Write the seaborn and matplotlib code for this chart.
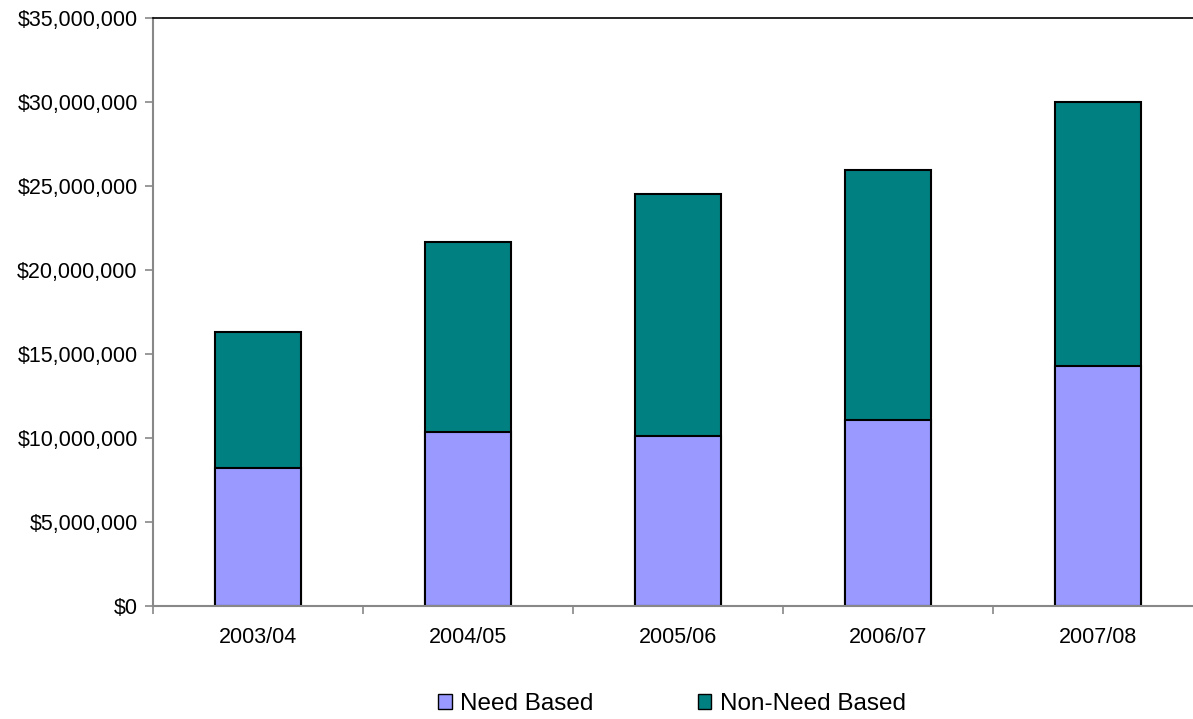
import matplotlib
matplotlib.use("Agg")
import matplotlib.pyplot as plt
import matplotlib.ticker as ticker
from matplotlib.patches import Patch
import seaborn as sns
import numpy as np

years = ["2003/04", "2004/05", "2005/06", "2006/07", "2007/08"]
need_based = [8.2e6, 10.35e6, 10.1e6, 11.05e6, 14.3e6]
non_need_based = [8.1e6, 11.3e6, 14.4e6, 14.9e6, 15.7e6]

need_color = "#9999FF"
non_need_color = "#008080"

sns.set_style("white")
plt.rcParams["font.family"] = ["Liberation Sans", "DejaVu Sans"]

fig = plt.figure(figsize=(11.93, 7.19), dpi=100)
ax = fig.add_axes([153 / 1193, 1 - 606 / 719, 1050 / 1193, 588 / 719])

totals = np.array(need_based) + np.array(non_need_based)

# Stacked bars: draw totals first (non-need on top), then need-based over them
sns.barplot(x=years, y=totals, color=non_need_color, saturation=1, width=0.41,
            edgecolor="black", linewidth=1.5, ax=ax)
sns.barplot(x=years, y=need_based, color=need_color, saturation=1, width=0.41,
            edgecolor="black", linewidth=1.5, ax=ax)

ax.set_xlim(-0.5, 4.5)
ax.set_ylim(0, 35e6)
ax.yaxis.set_major_locator(ticker.MultipleLocator(5e6))
ax.yaxis.set_major_formatter(ticker.FuncFormatter(lambda v, _: f"${v:,.0f}"))

# Tick marks between categories on the x axis
ax.set_xticks(np.arange(-0.5, 5, 1), minor=True)
ax.tick_params(axis="x", which="major", length=0, pad=15, labelsize=15.5, labelcolor="black")
ax.tick_params(axis="x", which="minor", bottom=True, length=6, width=1.2, color="#888888",
               direction="out")
ax.tick_params(axis="y", which="major", length=6, width=1.2, color="#888888", direction="out",
               left=True, labelsize=15.5, labelcolor="black", pad=5)
ax.set_xlabel("")
ax.set_ylabel("")

for side in ["left", "bottom"]:
    ax.spines[side].set_color("#888888")
    ax.spines[side].set_linewidth(1.5)
ax.spines["top"].set_color("black")
ax.spines["top"].set_linewidth(1.2)
ax.spines["right"].set_visible(False)

handles = [Patch(facecolor=need_color, edgecolor="black", label="Need Based"),
           Patch(facecolor=non_need_color, edgecolor="black", label="Non-Need Based")]
fig.legend(handles=handles, loc="center", bbox_to_anchor=(672 / 1193, 1 - 704 / 719),
           ncol=2, frameon=False, fontsize=17.5, handlelength=0.55, handleheight=0.55,
           handletextpad=0.35, columnspacing=4.3, labelcolor="black")

fig.savefig("out.png", dpi=100)
